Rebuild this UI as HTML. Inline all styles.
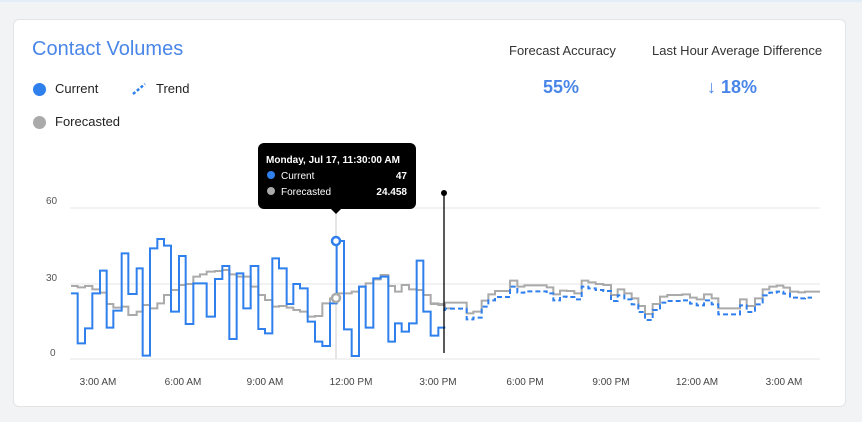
<!DOCTYPE html>
<html><head><meta charset="utf-8"><style>
body{margin:0;width:862px;height:422px;background:#f1f3f4;font-family:"Liberation Sans",sans-serif;position:relative;overflow:hidden}
.top{position:absolute;left:0;top:0;width:862px;height:2px;background:#e3edf7}
.card{position:absolute;left:13px;top:19px;width:831px;height:386px;background:#fff;border:1px solid #e2e4e6;border-radius:6px}
.t{position:absolute;white-space:nowrap}
</style></head><body>
<div class="top"></div>
<div class="card"></div>
<div class="t" style="left:32px;top:38px;font-size:20px;color:#4a86e8">Contact Volumes</div>
<div class="t" style="left:33px;top:83px;width:13px;height:13px;border-radius:50%;background:#2f80ed"></div>
<div class="t" style="left:55px;top:81px;font-size:13px;color:#222">Current</div>
<svg class="t" style="left:131px;top:82px" width="16" height="14"><line x1="2" y1="12" x2="14" y2="2" stroke="#2f80ed" stroke-width="2.5" stroke-dasharray="3,2"/></svg>
<div class="t" style="left:156px;top:81px;font-size:13px;color:#222">Trend</div>
<div class="t" style="left:33px;top:116px;width:13px;height:13px;border-radius:50%;background:#aaa"></div>
<div class="t" style="left:55px;top:114px;font-size:13px;color:#222">Forecasted</div>
<div class="t" style="left:509px;top:43px;font-size:13px;color:#333">Forecast Accuracy</div>
<div class="t" style="left:543px;top:77px;font-size:18px;font-weight:bold;color:#4a86e8">55%</div>
<div class="t" style="left:652px;top:43px;font-size:13px;color:#333">Last Hour Average Difference</div>
<div class="t" style="left:707px;top:77px;font-size:18px;font-weight:bold;color:#4a86e8">↓ 18%</div>
<svg class="t" style="left:0;top:0" width="862" height="422" id="s">
<line x1="70" y1="208" x2="820" y2="208" stroke="#e6e6e6"/>
<line x1="70" y1="284" x2="820" y2="284" stroke="#e6e6e6"/>
<line x1="70" y1="359" x2="820" y2="359" stroke="#e6e6e6"/>
<text x="46" y="204" font-size="10" fill="#555">60</text>
<text x="46" y="281" font-size="10" fill="#555">30</text>
<text x="50" y="356" font-size="10" fill="#555">0</text>
<g font-size="10" fill="#444" text-anchor="middle">
<text x="98" y="385">3:00 AM</text><text x="183" y="385">6:00 AM</text><text x="265" y="385">9:00 AM</text><text x="351" y="385">12:00 PM</text><text x="438" y="385">3:00 PM</text><text x="525" y="385">6:00 PM</text><text x="611" y="385">9:00 PM</text><text x="697" y="385">12:00 AM</text><text x="784" y="385">3:00 AM</text></g>
<line x1="336" y1="208" x2="336" y2="359" stroke="#ccc"/>
<g id="g"></g>
<line x1="444" y1="193" x2="444" y2="353" stroke="#000" stroke-width="1.3"/>
<circle cx="444" cy="193" r="3" fill="#000"/>
<circle cx="336" cy="298" r="4" fill="#fff" stroke="#aaa" stroke-width="2.5"/>
<circle cx="336" cy="241" r="4" fill="#fff" stroke="#2f80ed" stroke-width="2.5"/>
<rect x="258" y="143" width="158" height="66" rx="6" fill="#000"/>
<path d="M331 209 L336 214 L341 209Z" fill="#000"/>
<text x="266" y="163" font-size="10" font-weight="bold" fill="#fff">Monday, Jul 17, 11:30:00 AM</text>
<circle cx="271" cy="175" r="4" fill="#2f80ed"/><text x="281" y="179" font-size="10" fill="#fff">Current</text><text x="407" y="179" font-size="10" font-weight="bold" fill="#fff" text-anchor="end">47</text>
<circle cx="271" cy="191" r="4" fill="#aaa"/><text x="281" y="195" font-size="10" fill="#fff">Forecasted</text><text x="407" y="195" font-size="10" font-weight="bold" fill="#fff" text-anchor="end">24.458</text>
</svg>
<script>
function step(pts,ox,oy){var d='';for(var i=0;i<pts.length;i++){var x=pts[i][0]/3+ox,y=pts[i][1]/3+oy;var nx=i+1<pts.length?pts[i+1][0]/3+ox:x+7;if(i==0)d+='M'+x+' '+y;else d+='L'+x+' '+y;d+='L'+nx+' '+y;}return d;}
var b=[[33,340],[53,490],[75,445],[97,340],[120,272],[140,443],[160,392],[185,220],[205,342],[230,265],[248,527],[270,205],[292,177],[312,197],[333,395],[357,228],[377,432],[400,310],[440,410],[465,297],[487,258],[508,477],[530,280],[550,385],[572,258],[595,447],[615,460],[637,235],[657,265],[680,372],[700,312],[720,325],[743,425],[765,485],[787,498],[810,370],[830,183],[852,448],[875,528],[897,320],[917,443],[940,295],[962,290],[985,485],[1005,430],[1025,455],[1047,430],[1070,242],[1090,395],[1112,467],[1135,443]];
var g1=[[33,318],[53,322],[75,318],[97,328],[120,338],[140,372],[160,383],[185,380],[205,405],[230,395],[248,375],[270,385],[292,370],[312,345],[333,330],[357,315],[377,312],[400,290],[420,283],[440,275],[465,273],[487,270],[508,283],[530,290],[550,290],[572,320],[595,345],[615,360],[637,380],[657,378],[680,383],[700,390],[720,395],[743,410],[765,408],[787,370],[810,355],[830,340],[852,340],[875,335],[897,320],[917,310],[940,298],[962,285],[985,318],[1005,335],[1025,315],[1047,328],[1070,330],[1090,345],[1112,370],[1135,375],[1155,385]];
var g2=[[0,132],[45,128],[110,160],[130,155],[155,122],[175,103],[195,93],[240,62],[262,80],[283,76],[350,82],[370,103],[390,92],[410,93],[433,100],[455,62],[475,67],[497,72],[520,75],[543,105],[563,88],[583,100],[605,115],[625,138],[645,162],[668,132],[690,110],[712,105],[757,103],[780,113],[800,118],[822,103],[845,115],[865,145],[930,118],[950,138],[975,115],[998,88],[1018,80],[1040,77],[1060,83],[1080,95],[1105,97],[1125,95]];
var bd=[[40,150]];for(var i=1;i<g2.length;i++)bd.push([g2[i][0],g2[i][1]+18]);
var gg=document.getElementById('g');
gg.innerHTML='<path d="'+step(g1,60,180)+'" fill="none" stroke="#aaa" stroke-width="2"/>'+
'<path d="'+step(g2,430,260).replace(/L[\d.]+ [\d.]+$/,'L820 '+(95/3+260))+'" fill="none" stroke="#aaa" stroke-width="2"/>'+
'<path d="'+step(b,60,180)+'" fill="none" stroke="#2f80ed" stroke-width="2"/>'+
'<path d="'+step(bd,430,260)+'" fill="none" stroke="#2f80ed" stroke-width="2" stroke-dasharray="5,3"/>';
</script>
</body></html>
